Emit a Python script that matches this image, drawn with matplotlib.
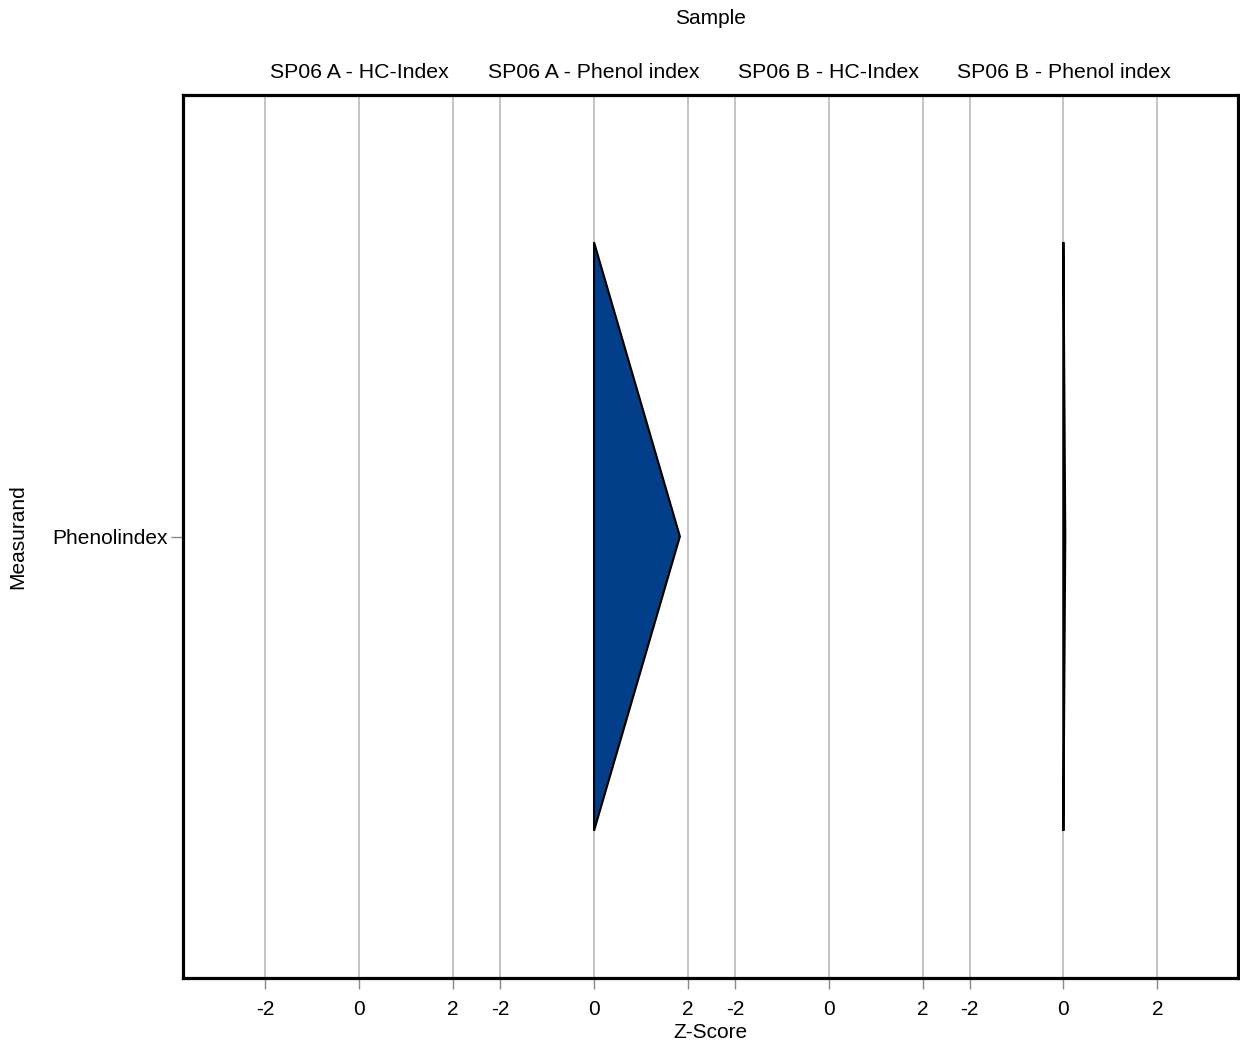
import matplotlib
matplotlib.use('Agg')
import matplotlib.pyplot as plt
from matplotlib.transforms import ScaledTranslation

plt.rcParams['font.family'] = ['Liberation Sans', 'DejaVu Sans']

# facets (columns) and the single measurand row
samples = ['SP06 A - HC-Index', 'SP06 A - Phenol index',
           'SP06 B - HC-Index', 'SP06 B - Phenol index']
measurands = ['Phenolindex']
tick_values = [-2, 0, 2]

# violin outline per facet: z-score at band top, centre, bottom (None = no data)
band_pos = [-0.5, 0.0, 0.5]
violin_z = [None, [0.0, 1.83, 0.0], None, [0.0, 0.04, 0.0]]

facet_step = 5.0  # z-units between facet centres on the shared axis

fig = plt.figure(figsize=(12.4, 10.47), dpi=100)
ax = fig.add_axes([183 / 1240, 1 - 978 / 1047, (1238 - 183) / 1240, (978 - 95) / 1047])

# facet headers sit ~22px above the frame
head_tr = ax.get_xaxis_transform() + ScaledTranslation(0, 22 / 100, fig.dpi_scale_trans)

xticks, xlabels = [], []
for i, s in enumerate(samples):
    off = i * facet_step
    for t in tick_values:
        xticks.append(off + t)
        xlabels.append(str(t))
        ax.axvline(off + t, color='#c4c4c4', lw=1.4, zorder=0)
    ax.text(off, 1.0, s, transform=head_tr, ha='center', va='center', fontsize=15.3)
    if violin_z[i] is not None:
        xs = [off + z for z in violin_z[i]]
        ax.fill(xs, band_pos, facecolor='#023e8a', edgecolor='black', lw=1.5, zorder=3)

ax.set_xlim(-3.757, 18.72)
ax.set_ylim(0.75, -0.75)
ax.set_xticks(xticks)
ax.set_xticklabels(xlabels, fontsize=15)
ax.set_yticks([0])
ax.set_yticklabels(measurands, fontsize=15)
ax.tick_params(axis='x', color='#888888', length=8, width=1, pad=8)
ax.tick_params(axis='y', color='#888888', length=9, width=1, pad=2)

for sp in ax.spines.values():
    sp.set_linewidth(2.3)
    sp.set_color('black')

ax.set_xlabel('Z-Score', fontsize=15, labelpad=3)
ax.set_ylabel('Measurand', fontsize=15)
ax.yaxis.set_label_coords(-0.148, 0.5)
fig.text((183 + 1238) / 2 / 1240, 1 - 18 / 1047, 'Sample', ha='center', va='center', fontsize=15)

fig.savefig('out.png', dpi=100)
